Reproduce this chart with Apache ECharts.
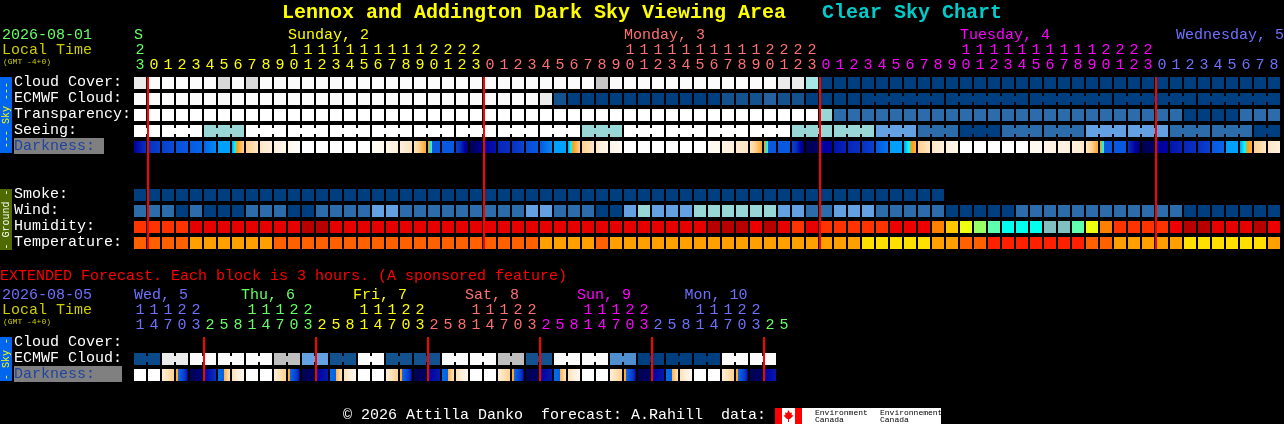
<!DOCTYPE html>
<html><head><meta charset="utf-8">
<script src="https://cdn.jsdelivr.net/npm/echarts@6/dist/echarts.min.js"></script>
<style>html,body{margin:0;padding:0;background:#000}#c{width:1284px;height:424px}</style>
</head><body><div id="c"></div>
<script>
// ---------- data ----------
const palette = {
  w:'#fbfbfb',W:'#ffffff',a:'#ebebeb',b:'#d9d9d9',c:'#c6c6c6',e:'#bebebe',q:'#a6e6e6',t:'#99d6d6',
  l:'#63a1e2',k:'#4f8fcf',s:'#2c6cab',n:'#14528f',v:'#2561a0',N:'#0a4a8a',d:'#003f7f',
  O:'#ff3300',r:'#e60000',R:'#ee0000',D:'#b80000',P:'#ff8000',G:'#ffc800',Y:'#eeff10',H:'#99ff66',
  M:'#5fffb0',C:'#00ffee',B:'#80c0c0',o:'#ff6000',A:'#ffa000',U:'#ffe000',F:'#ff2000'
};
const codes = s => s.replace(/ /g,'').split('');
const cloudCover   = codes('awwwwwbwbw wwwwwwwwww wwwwwwwwww wwwcwwwwww wwwwwwaaqd dddddddddd dddddddddd dddddddddd dd');
const ecmwfCloud   = codes('wwwwwwwwww wwwwwwwwww wwwwwwwwwa nddddddddd ddnnnvnndd dddddddddd dddddddddd dddddddddd dd');
const transparency = codes('WWWWWWWWWW WWWWWWWWWW WWWWWWWWWW WWWWWWWWWW WWWWWWWWWt ssssssssss ssssssssss sssssdddds ss');
const seeing       = codes('WWWWWtttWW WWWWWWWWWW WWWWWWWWWW WWtttWWWWW WWWWWWWttt tttlllsssd ddssssssll llllssssss dd');
const smoke        = codes('dddddddddd dddddddddd dddddddddd dddddddddd dddddddddd dddddddd');
const wind         = codes('sssdsdddss sddssssllS ssssssssll sssddltlll ttttttllss lllsssssdd dddsssssss sssssddddd dd'.replace('S','s'));
const humidity     = codes('OOOOrrrrrr rrDDrrrrrr rrrrrrrrrr rrrrrrrrrr rDDDRDrOrO OOOORRRPGY HMCCCBBMYP OOOORDDrrr DR');
const temperature  = codes('ooooAAAAAA oooooooooo oooooooooA AAAoAAAAAA AAAAAAAAAA AAUUUUUAAo oFFFFFFFoo AAAAAUUUUU UA');
// darkness: position on the darkness colour scale at the left and right of each block
const darkScale = ['#000050','#0000a0','#0a30c0','#0858e0','#00a0ff','#00ffff','#ff9a10','#ffd090','#fff0dd','#ffffff'];
const darkStretch = [-1.6,-1.4,-1.2,-0.8,0,0.25,0.42,1,1.6,2.2];
const darkLeft  = [1,2,2.4,2.8,3,3.2,4,4,7,7.7, 8,8.5,9,9,9,9,9,8.7,8.3,8, 7.6,6,3,2.4,0,1,1.8,2,2.7,3, 4,4,7,7.7,8.2,9,9,9,9,9, 9,8.6,8.2,7.8,7.6,6,3,2.4,0,1, 1.4,1.8,2,3,4,4,7,7.7,8,9, 9,9,9,9,8.6,8.3,8.2,8,7.7,6, 3,2,0,1,1.4,1.8,2,3,4,4, 7,7.7];
const darkRight = [2,2.4,2.7,3,3.2,3.7,4,7,7.7,8, 8.4,8.8,9,9,9,9,9,8.5,8,7.6, 6.2,3,3,0.4,0.8,1.4,2,2.5,3,3.7, 4,7,7.7,8.5,8.7,9,9,9,9,9, 9,8.5,8,7.7,6.2,3,3,0.4,0.3,1, 1.7,2,2.4,3.4,4,6.4,7.7,8,8.4,9, 9,9,9,9,8.5,8.2,8,7.8,6.2,3, 3,0.4,0.3,1,1.7,2,2.4,3.2,4,6.4, 7.7,8];
// sharp sun edges inside a block: block -> [fraction, value before, value after]
const darkEdges = {21:[0.3,5,3],45:[0.3,5,3],69:[0.3,5,3]};
const hoursMain = [23,0,1,2,3,4,5,6,7,8,9,10,11,12,13,14,15,16,17,18,19,20,21,22,23,0,1,2,3,4,5,6,7,8,9,10,11,12,13,14,15,16,17,18,19,20,21,22,23,0,1,2,3,4,5,6,7,8,9,10,11,12,13,14,15,16,17,18,19,20,21,22,23,0,1,2,3,4,5,6,7,8];
const dayColorsMain = ['#66ff66','#ffff00','#ff7070','#ff00ff','#7070ff'];
const dayFirstMain  = [0,1,25,49,73];
const dayNamesMain  = ['S','Sunday, 2','Monday, 3','Tuesday, 4','Wednesday, 5'];
const dayLabelAtMain= [0,11,35,59,81];
const midnightsMain = [1,25,49,73];
const rowLabelsMain = ['Cloud Cover:','ECMWF Cloud:','Transparency:','Seeing:','Darkness:','','','Smoke:','Wind:','Humidity:','Temperature:'];

const ecmwfExt = codes('NN aa ww ww ww ee ll nn ww nn nn ww ww ee nn ww ww kk dd dd dd ww ww');
const darkLeftExt  = [9,9,8,6.4,0,1,3.3,7.5, 9,9,8,6.4,0,1,3.3,7.5, 9,9,8,6.4,0,1,3.3,7.5, 9,9,8,6.4,0,1,3.3,7.5, 9,9,8,6.4,0,1,3.3,7.5, 9,9,8,6.4,0,1];
const darkRightExt = [9,9,7,1,0.5,2,7.5,8.5, 9,9,7,1,0.3,1.5,7.5,8.5, 9,9,7,1,0.3,1.5,7.5,8.5, 9,9,7,1,0.3,1.5,7.5,8.5, 9,9,7,1,0.3,1.5,7.5,8.5, 9,9,7,1,0.3,1.5];
const darkEdgesExt = {3:[0.14,6.2,3.3],11:[0.14,6.2,3.3],19:[0.14,6.2,3.3],27:[0.14,6.2,3.3],35:[0.14,6.2,3.3],43:[0.14,6.2,3.3],
                      6:[0.5,3.1,6.4],14:[0.5,3.1,6.4],22:[0.5,3.1,6.4],30:[0.5,3.1,6.4],38:[0.5,3.1,6.4]};
const hoursExt = [11,14,17,20,23,2,5,8,11,14,17,20,23,2,5,8,11,14,17,20,23,2,5,8,11,14,17,20,23,2,5,8,11,14,17,20,23,2,5,8,11,14,17,20,23,2,5];
const dayColorsExt = ['#7070ff','#66ff66','#ffff00','#ff7070','#ff00ff','#7070ff','#66ff66'];
const dayFirstExt  = [0,5,13,21,29,37,45];
const dayNamesExt  = ['Wed, 5','Thu, 6','Fri, 7','Sat, 8','Sun, 9','Mon, 10'];
const dayLabelAtExt= [1,9,17,25,33,41];
const dayColorExt  = ['#7070ff','#66ff66','#ffff00','#ff7070','#ff00ff','#7070ff'];
const midnightsExt = [5,13,21,29,37,45];
const rowLabelsExt = ['Cloud Cover:','ECMWF Cloud:','Darkness:'];

// ---------- drawing ----------
const MONO = '"Liberation Mono"';
const dayColor = (first, colors, i) => { let c = colors[0]; first.forEach((f,k)=>{ if(i>=f) c = colors[k]; }); return c; };
const pad = h => String(h%10);
const tens = h => h>=10 ? String(Math.floor(h/10)) : '';
const chart = echarts.init(document.getElementById('c'), null, {renderer:'canvas'});

function cellRows(rows){
  const items=[];
  rows.forEach(r=>r.codes.forEach((code,i)=>items.push({value:[i,r.row],fill:palette[code],
     link: r.link && i+1<r.codes.length && r.link(i)})));
  return items;
}
function cellSeries(axis, items){
  return {type:'custom',xAxisIndex:axis,yAxisIndex:axis/2,silent:true,z:2,clip:false,animation:false,
    encode:{x:0,y:1},data:items.map(d=>d.value),
    renderItem(p,api){
      const d=items[p.dataIndex]; const c=api.coord([api.value(0),api.value(1)]);
      const x=c[0]-6,y=c[1]-7;
      const kids=[{type:'rect',shape:{x,y,width:12,height:12},style:{fill:d.fill}}];
      if(d.link) kids.push({type:'rect',shape:{x:x+12,y:y+3,width:2,height:6},style:{fill:d.fill}});
      return {type:'group',children:kids};
    }};
}
const stretch=v=>{const k=Math.min(8,Math.floor(v)),t=v-k;return darkStretch[k]+(darkStretch[k+1]-darkStretch[k])*t;};
const darkCol=v=>{const k=Math.min(8,Math.floor(v)),t=v-k;
  const A=echarts.color.parse(darkScale[k]),B=echarts.color.parse(darkScale[k+1]);
  return 'rgb('+[0,1,2].map(j=>Math.round(A[j]+(B[j]-A[j])*t)).join(',')+')';};
function rampStops(a,b,from,to){
  const stops=[{offset:from,color:darkCol(a)}];
  const lo=Math.min(a,b),hi=Math.max(a,b);
  const ints=[];for(let v=Math.ceil(lo);v<=Math.floor(hi);v++) if(v>lo&&v<hi) ints.push(v);
  const sa=stretch(a),sb=stretch(b);
  (a<b?ints:ints.reverse()).forEach(v=>stops.push({offset:from+(to-from)*(stretch(v)-sa)/(sb-sa),color:darkCol(v)}));
  stops.push({offset:to,color:darkCol(b)});
  return stops;
}
function darkFill(a,b,edge){
  const stops=edge?rampStops(a,edge[1],0,edge[0]).concat(rampStops(edge[2],b,edge[0],1)):rampStops(a,b,0,1);
  return {type:'linear',x:0,y:0,x2:1,y2:0,colorStops:stops};
}
function darkSeries(axis,left,right,edges,row){
  return {type:'custom',xAxisIndex:axis,yAxisIndex:axis/2,silent:true,z:2,clip:false,animation:false,
    encode:{x:0,y:1},data:left.map((v,i)=>[i,row]),
    renderItem(p,api){
      const i=p.dataIndex,c=api.coord([api.value(0),api.value(1)]);
      return {type:'rect',shape:{x:c[0]-6,y:c[1]-7,width:12,height:12},style:{fill:darkFill(left[i],right[i],edges[i])}};
    }};
}
function redSeries(axis,idx,rows){
  return {type:'custom',xAxisIndex:axis,yAxisIndex:axis/2,silent:true,z:5,clip:false,animation:false,
    encode:{x:0,y:1},data:idx.map(i=>[i,0]),
    renderItem(p,api){
      const c=api.coord([api.value(0),api.value(1)]);
      return {type:'rect',shape:{x:c[0]-7,y:c[1]-7,width:2,height:rows*16-4},style:{fill:'#ff0000'}};
    }};
}
function dayLabelSeries(axis,at,names,colors,centered){
  return {type:'custom',xAxisIndex:axis,yAxisIndex:axis/2,silent:true,z:3,clip:false,animation:false,
    encode:{x:0,y:1},data:at.map(i=>[i,0]),
    renderItem(p,api){
      const i=p.dataIndex,c=api.coord([api.value(0),api.value(1)]);
      const w=names[i].length*9;
      let x=centered? c[0]+2-w/2 : c[0]-6;
      x=Math.max(134,Math.min(x,1284-w));
      return {type:'text',x,y:c[1]-49,style:{text:names[i],fill:colors[i],font:'15px '+MONO,textVerticalAlign:'middle',textAlign:'left'}};
    }};
}
function xAxes(grid,hours,first,colors){
  const base={type:'category',gridIndex:grid,position:'top',data:hours.map(String),
    axisLine:{show:false},axisTick:{show:false},splitLine:{show:false}};
  const lab=(fn,margin)=>({interval:0,margin,fontFamily:MONO,fontSize:15,hideOverlap:false,
    formatter:(v,i)=>fn(hours[i]),color:(v,i)=>dayColor(first,colors,i)});
  return [Object.assign({},base,{axisLabel:lab(pad,3)}),
          Object.assign({},base,{offset:15,axisLabel:lab(tens,3)})];
}
function yAxis(grid,labels){
  return {type:'category',gridIndex:grid,inverse:true,data:labels,
    axisLine:{show:false},axisTick:{show:false},splitLine:{show:false},
    axisLabel:{interval:0,align:'left',margin:119,fontFamily:MONO,fontSize:15,color:'#ffffff',padding:[0,0,4,0],
      formatter:v=>v==='Darkness:'?'{dk|'+v+'}':v,
      rich:{dk:{backgroundColor:'#808080',color:'#1f439f',fontFamily:MONO,fontSize:15,
                width:grid?108:90,height:15,lineHeight:15,align:'left',padding:[1,0,0,0]}}}};
}
const txt=(text,x,y,fill,size,extra)=>({type:'text',x,y,silent:true,z:10,
  style:Object.assign({text,fill,font:(size||15)+'px '+MONO,textVerticalAlign:'middle'},extra||{})});
const strip=(y,h,color,text,fill)=>[
  {type:'rect',shape:{x:0,y,width:12,height:h},style:{fill:color},silent:true,z:9},
  {type:'text',x:6,y:y+h/2,rotation:Math.PI/2,silent:true,z:10,
   style:{text,fill,font:'10px '+MONO,textAlign:'center',textVerticalAlign:'middle'}}];

const mainRows=cellRows([
  {codes:cloudCover,row:0},
  {codes:ecmwfCloud,row:1,link:i=>i>=52&&(i+1)%6!==4},
  {codes:transparency,row:2},
  {codes:seeing,row:3,link:i=>(i+1)%3!==2},
  {codes:smoke,row:7},{codes:wind,row:8},{codes:humidity,row:9},{codes:temperature,row:10}]);
const extRows=cellRows([{codes:ecmwfExt,row:1,link:i=>i%2===0}]);

chart.setOption({
  animation:false,backgroundColor:'#000000',
  title:{left:282,top:3,padding:0,text:'{a|Lennox and Addington Dark Sky Viewing Area}   {b|Clear Sky Chart}',
    textStyle:{fontFamily:MONO,fontSize:20,fontWeight:'bold',
      rich:{a:{color:'#ffff00',fontFamily:MONO,fontSize:20,fontWeight:'bold'},b:{color:'#00cccc',fontFamily:MONO,fontSize:20,fontWeight:'bold'}}}},
  grid:[{left:133,top:76,width:82*14,height:11*16,containLabel:false},
        {left:133,top:336,width:47*14,height:3*16,containLabel:false}],
  xAxis:[...xAxes(0,hoursMain,dayFirstMain,dayColorsMain),...xAxes(1,hoursExt,dayFirstExt,dayColorsExt)],
  yAxis:[yAxis(0,rowLabelsMain),yAxis(1,rowLabelsExt)],
  series:[
    cellSeries(0,mainRows),darkSeries(0,darkLeft,darkRight,darkEdges,4),redSeries(0,midnightsMain,11),
    dayLabelSeries(0,dayLabelAtMain,dayNamesMain,['#66ff66','#ffff00','#ff7070','#ff00ff','#7070ff'],false),
    cellSeries(2,extRows),darkSeries(2,darkLeftExt,darkRightExt,darkEdgesExt,2),redSeries(2,midnightsExt,3),
    dayLabelSeries(2,dayLabelAtExt,dayNamesExt,dayColorExt,true)
  ],
  graphic:{elements:[
    txt('2026-08-01',2,35,'#66ff66'),txt('Local Time',2,50,'#cccc00'),txt('(GMT -4+0)',3,62,'#cccc00',8),
    txt('EXTENDED Forecast. Each block is 3 hours. (A sponsored feature)',0,276,'#ff0000'),
    txt('2026-08-05',2,295,'#7070ff'),txt('Local Time',2,310,'#cccc00'),txt('(GMT -4+0)',3,322,'#cccc00',8),
    ...strip(77,76,'#0066ee','--- Sky ---','#ffff00'),
    ...strip(189,61,'#4f6a00','- Ground -','#ffffff'),
    ...strip(337,44,'#0066ee','- Sky -','#ffff00'),
    txt('\u00a9 2026 Attilla Danko  forecast: A.Rahill  data:',343,415,'#ffffff'),
    {type:'rect',shape:{x:775,y:408,width:166,height:16},style:{fill:'#ffffff'},silent:true,z:9},
    {type:'rect',shape:{x:775,y:408,width:7,height:16},style:{fill:'#ff0000'},silent:true,z:10},
    {type:'rect',shape:{x:795,y:408,width:7,height:16},style:{fill:'#ff0000'},silent:true,z:10},
    {type:'polygon',shape:{points:[[788.5,410],[790,413],[792,412.5],[791.5,415],[793.5,415.5],[790,419],[789,419],[789,422],[788,422],[788,419],[787,419],[783.5,415.5],[785.5,415],[785,412.5],[787,413]]},style:{fill:'#ff0000'},silent:true,z:10},
    txt('Environment',815,412.5,'#000000',8),txt('Canada',815,419.5,'#000000',8),
    txt('Environnement',880,412.5,'#000000',8),txt('Canada',880,419.5,'#000000',8)
  ]}
});
</script></body></html>
